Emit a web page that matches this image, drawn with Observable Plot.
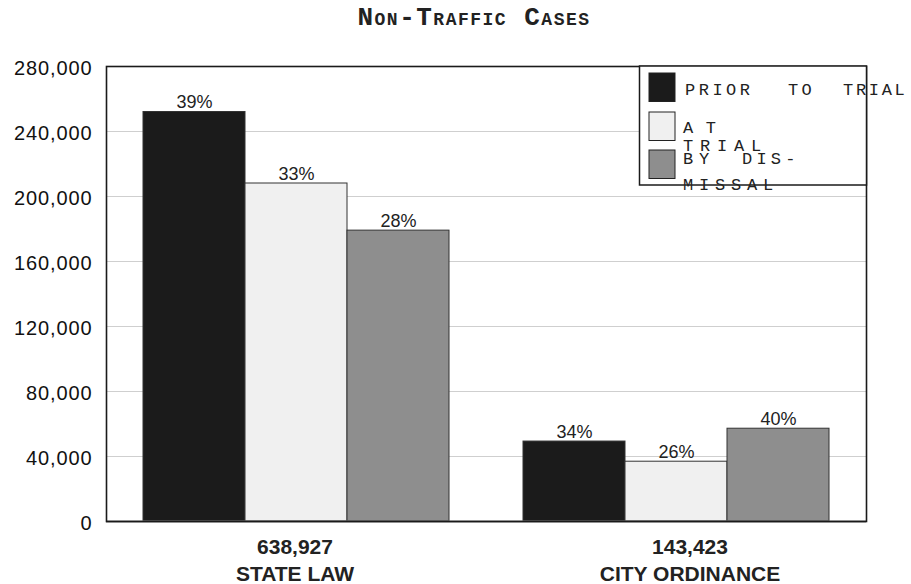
<!DOCTYPE html>
<html>
<head>
<meta charset="utf-8">
<script src="https://cdn.jsdelivr.net/npm/d3@7"></script>
<script src="https://cdn.jsdelivr.net/npm/@observablehq/plot@0.6"></script>
<style>
  html, body { margin: 0; padding: 0; background: #fff; }
  #wrap { position: relative; width: 911px; height: 584px; overflow: hidden; }
  #title {
    position: absolute; left: 0; top: 3px; width: 911px; box-sizing: border-box;
    padding-left: 37px; text-align: center;
    font-family: "Liberation Mono", "Courier New", monospace; font-weight: bold;
    font-size: 26px; font-variant: small-caps; letter-spacing: 1.5px; color: #222;
    white-space: pre;
  }
  #chart { position: absolute; left: 0; top: 40px; }
  #legend { position: absolute; left: 0; top: 0; pointer-events: none; }
  [aria-label="y-axis tick label"] text { letter-spacing: 0.9px; }
</style>
</head>
<body>
<div id="wrap">
  <div id="title">Non-Traffic Cases</div>
  <div id="chart"></div>
  <svg id="legend" width="911" height="584"></svg>
</div>
<script>
// ---- data ----
const categories = ["STATE LAW", "CITY ORDINANCE"];
const totals = ["638,927", "143,423"];
const types = ["PRIOR TO TRIAL", "AT TRIAL", "BY DISMISSAL"];
const stateValues = [252000, 208000, 179000];
const cityValues = [49200, 36800, 57100];
const statePct = ["39%", "33%", "28%"];
const cityPct = ["34%", "26%", "40%"];
const yTicks = [0, 40000, 80000, 120000, 160000, 200000, 240000, 280000];
const colors = ["#1b1b1b", "#f0f0f0", "#8e8e8e"];
// legend lines (as wrapped in the original)
const legendLines = [
  [["PRIOR", 685, 95, 3.5], ["TO", 788, 95, 3.4], ["TRIAL", 843, 95, 2.7]],
  [["A T", 683, 133, 1.2]],
  [["TRIAL", 683, 151, 6.8]],
  [["BY", 683, 164, 5.8], ["DIS-", 742, 164, 4.2]],
  [["MISSAL", 683, 190, 5.8]]
];

const rows = [];
types.forEach((t, i) => {
  rows.push({category: categories[0], type: t, value: stateValues[i], pct: statePct[i]});
  rows.push({category: categories[1], type: t, value: cityValues[i], pct: cityPct[i]});
});
const labelRows = categories.map((c, i) => ({category: c, label: totals[i] + "\n" + c}));

const plot = Plot.plot({
  width: 911,
  height: 544,
  marginTop: 26,
  marginBottom: 63,
  marginLeft: 106,
  marginRight: 45,
  style: {fontFamily: "'Liberation Sans', Arial, sans-serif", background: "transparent", color: "#111"},
  fx: {domain: categories, padding: 0, axis: null},
  x: {domain: types, paddingInner: 0, paddingOuter: 0.35, axis: null},
  y: {domain: [0, 280000], axis: null},
  color: {domain: types, range: colors},
  marks: [
    Plot.gridY(yTicks, {stroke: "#cfcfcf", strokeOpacity: 1, strokeWidth: 1.2}),
    Plot.axisY(yTicks, {tickFormat: d3.format(","), tickSize: 0, tickPadding: 14, fontSize: 20, dy: 2, fill: "#111", label: null}),
    Plot.barY(rows, {fx: "category", x: "type", y: "value", fill: "type", stroke: "#333", strokeWidth: 1}),
    Plot.text(rows, {fx: "category", x: "type", y: "value", text: "pct", lineAnchor: "bottom", dy: -4, fontSize: 18, fill: "#222"}),
    Plot.text(labelRows.slice(0, 1), {fx: "category", text: "label", frameAnchor: "bottom", lineAnchor: "top", lineHeight: 1.29, dy: 13, dx: -1.5, fontSize: 21, fontWeight: "bold", fill: "#222"}),
    Plot.text(labelRows.slice(1), {fx: "category", text: "label", frameAnchor: "bottom", lineAnchor: "top", lineHeight: 1.29, dy: 13, dx: 13.5, fontSize: 21, fontWeight: "bold", fill: "#222", style: {wordSpacing: "-4px"}}),
    Plot.ruleY([0], {stroke: "#888", strokeWidth: 2}),
    Plot.frame({facet: "super", stroke: "#1a1a1a", strokeWidth: 1.6})
  ]
});
document.getElementById("chart").appendChild(plot);

// ---- legend ----
const ns = "http://www.w3.org/2000/svg";
const lg = document.getElementById("legend");
function el(name, attrs) {
  const e = document.createElementNS(ns, name);
  for (const k in attrs) e.setAttribute(k, attrs[k]);
  lg.appendChild(e);
  return e;
}
el("rect", {x: 639.5, y: 66, width: 227, height: 119, fill: "#fff", stroke: "#1a1a1a", "stroke-width": 1.5});
const swY = [73, 112, 150];
types.forEach((t, i) => {
  el("rect", {x: 649, y: swY[i], width: 26, height: 28.5, fill: colors[i], stroke: "#222", "stroke-width": 1});
});
legendLines.forEach(line => line.forEach(([txt, x, y, ls]) => {
  const t = el("text", {x, y, fill: "#222", "font-family": "'Liberation Mono', 'Courier New', monospace", "font-size": 17, "letter-spacing": ls});
  t.textContent = txt;
}));
</script>
</body>
</html>
